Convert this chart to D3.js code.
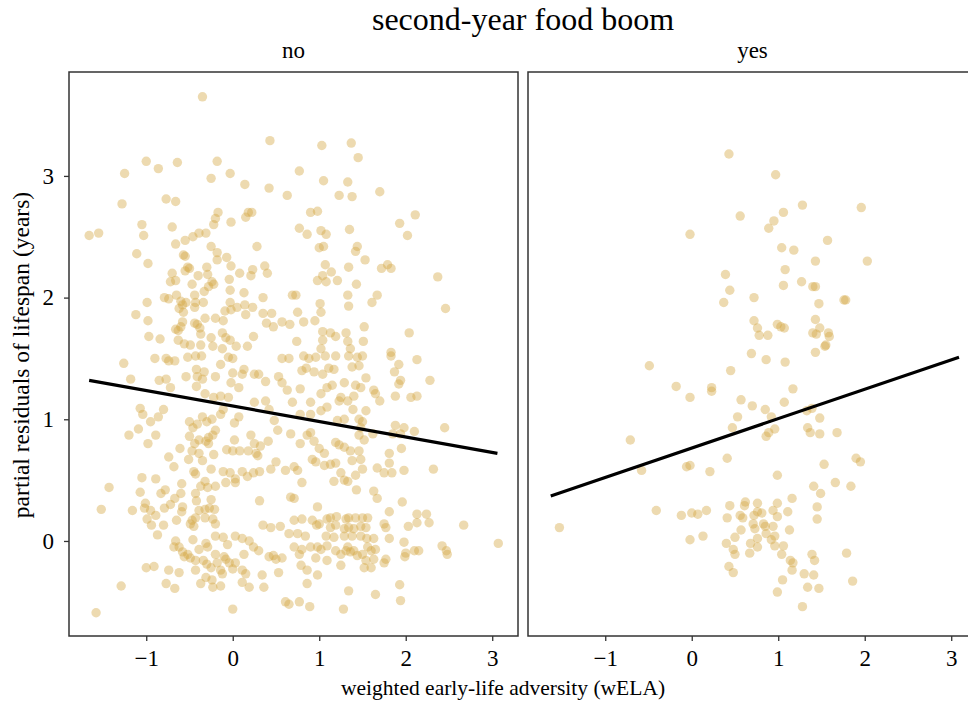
<!DOCTYPE html>
<html>
<head>
<meta charset="utf-8">
<script src="https://cdn.jsdelivr.net/npm/d3@7"></script>
<style>
  body { margin: 0; background: #fff; }
  text { font-family: "Liberation Serif", "Times New Roman", serif; fill: #000; }
</style>
</head>
<body>
<div id="chart"></div>
<script>
// facet labels and ticks
var facetNames = ["no", "yes"];
var xTicks = [-1, 0, 1, 2, 3];
var yTicks = [0, 1, 2, 3];

// points read off the "no" panel [wELA, partial residual]
var noPoints = [
[-0.35,3.65],[0.43,3.29],[-1.00,3.12],[-0.86,3.06],[-0.64,3.11],[-0.18,3.12],[-1.25,3.02],[-0.25,2.98],[-0.03,3.02],[0.14,2.93],[0.42,2.90],[0.63,2.84],[-1.28,2.77],[-0.77,2.81],[-0.66,2.79],[-0.17,2.70],[-0.20,2.65],[-0.22,2.60],[0.15,2.66],[0.18,2.70],[0.22,2.70],[-0.02,2.62],[-1.05,2.60],[-1.03,2.51],[-0.70,2.58],[-1.66,2.51],[-1.55,2.53],[-0.66,2.44],[-0.55,2.47],[-0.46,2.50],[-0.39,2.53],[-0.31,2.53],[-0.25,2.42],[0.28,2.42],[-1.11,2.36],[-0.98,2.28],[-0.57,2.35],[-0.55,2.34],[-0.18,2.37],[-0.18,2.31],[-0.07,2.33],[-0.02,2.26],[-0.30,2.25],[-0.52,2.25],[-0.55,2.22],[-0.50,2.24],[-0.70,2.20],[-0.72,2.13],[-0.66,2.14],[-0.40,2.18],[-0.29,2.19],[-0.47,2.11],[-0.24,2.13],[-0.22,2.11],[-0.28,2.09],[0.08,2.20],[0.21,2.18],[0.23,2.23],[0.37,2.26],[0.40,2.20],[-0.04,2.15],[-0.03,2.06],[0.13,2.04],[0.35,2.00],[0.69,2.02],[-0.33,2.05],[-0.44,2.02],[-0.43,1.96],[-0.54,1.96],[-0.58,1.94],[-0.79,2.00],[-0.74,1.99],[-0.65,2.02],[-0.99,1.96],[-1.12,1.86],[-0.98,1.81],[-0.97,1.68],[-0.84,1.66],[-0.62,1.91],[-0.57,1.88],[-0.60,1.97],[-0.34,1.96],[-0.44,1.92],[-0.09,1.89],[-0.02,1.90],[0.05,1.92],[0.14,1.94],[0.15,1.86],[0.23,1.92],[-0.03,1.96],[-0.32,1.83],[-0.20,1.83],[-0.11,1.81],[-0.44,1.79],[-0.41,1.78],[-0.38,1.75],[-0.58,1.80],[-0.63,1.73],[-0.66,1.74],[-0.60,1.76],[-0.37,1.70],[-0.25,1.67],[-0.12,1.71],[-0.08,1.67],[-0.03,1.65],[-0.63,1.65],[-0.56,1.62],[-0.49,1.61],[-0.37,1.61],[-0.23,1.60],[-0.12,1.58],[0.04,1.60],[0.24,1.68],[0.17,1.60],[0.39,1.79],[0.45,1.87],[0.47,1.76],[0.57,1.80],[0.66,1.78],[0.35,1.87],
[1.03,3.25],[1.37,3.27],[1.45,3.15],[0.77,3.04],[1.05,2.96],[1.33,2.95],[1.23,2.84],[1.38,2.83],[1.70,2.87],[0.90,2.70],[0.98,2.71],[0.77,2.57],[0.86,2.52],[1.02,2.55],[1.08,2.52],[1.35,2.56],[1.93,2.61],[2.11,2.68],[2.02,2.51],[1.00,2.41],[1.05,2.42],[1.44,2.42],[1.42,2.38],[1.53,2.31],[1.07,2.27],[1.14,2.21],[1.34,2.25],[1.72,2.24],[1.79,2.27],[1.83,2.24],[2.37,2.17],[0.98,2.14],[1.04,2.18],[1.08,2.13],[1.21,2.14],[1.43,2.11],[0.73,2.02],[0.75,1.88],[1.01,1.95],[1.02,1.88],[1.33,2.02],[1.34,1.93],[1.67,2.02],[1.61,1.96],[2.46,1.91],[0.82,1.80],[0.95,1.81],[1.04,1.72],[1.13,1.71],[1.19,1.68],[1.31,1.71],[1.33,1.64],[1.52,1.76],[1.51,1.64],[2.04,1.71],[1.04,1.65],[1.02,1.58],[0.74,1.64],[1.36,1.58],[1.83,1.55],
[-1.26,1.46],[-0.90,1.50],[-0.77,1.50],[-0.74,1.48],[-0.67,1.48],[-0.52,1.51],[-0.43,1.52],[-0.36,1.52],[-0.14,1.45],[-0.05,1.51],[0.00,1.50],[0.13,1.41],[0.57,1.50],[0.65,1.50],[-1.18,1.33],[-0.85,1.32],[-0.77,1.33],[-0.72,1.26],[-0.54,1.35],[-0.42,1.41],[-0.41,1.35],[-0.35,1.33],[-0.33,1.39],[-0.20,1.35],[0.00,1.38],[0.11,1.37],[0.25,1.37],[0.30,1.37],[0.38,1.31],[-0.02,1.30],[0.07,1.26],[0.53,1.35],[0.57,1.30],[0.63,1.24],[-0.42,1.27],[-0.32,1.21],[-0.22,1.18],[-0.14,1.19],[-0.05,1.18],[0.25,1.14],[0.38,1.15],[0.42,1.08],[0.69,1.14],[-1.07,1.09],[-1.04,1.04],[-0.95,0.98],[-0.86,1.02],[-0.80,1.08],[-1.20,0.87],[-1.09,0.92],[-0.89,0.87],[-0.98,0.80],[-0.74,0.69],[-0.68,0.61],[-0.61,0.76],[-0.50,0.98],[-0.46,0.93],[-0.41,0.96],[-0.35,1.02],[-0.30,0.98],[-0.24,1.00],[-0.20,0.91],[-0.28,0.85],[-0.50,0.86],[-0.44,0.80],[-0.39,0.83],[-0.31,0.82],[-0.23,0.87],[-0.28,0.80],[-0.47,0.74],[-0.39,0.72],[-0.35,0.66],[-0.22,0.71],[-0.14,1.04],[-0.11,1.08],[0.02,0.97],[0.07,1.02],[-0.07,0.75],[0.00,0.74],[0.08,0.74],[0.18,0.74],[0.27,0.72],[0.02,0.83],[0.21,0.87],[0.25,0.80],[0.32,0.78],[0.41,0.82],[0.29,0.70],[0.50,0.65],[0.44,0.59],[0.61,0.58],[0.48,0.99],[0.52,0.91],[0.67,0.88],[-0.51,0.67],[-0.45,0.57],[-0.43,0.55],[-0.25,0.59],[-0.11,0.57],[-0.03,0.56],[0.03,0.51],[0.11,0.57],[0.17,0.53],[0.24,0.56],[0.31,0.57],[0.03,0.48],[-0.08,0.48],[-0.32,0.49],[-0.37,0.45],[-0.29,0.44],[-0.20,0.45],[-0.59,0.47],[-0.60,0.39],[-0.67,0.35],[-0.89,0.51],[-1.05,0.52],[-0.78,0.42],[-0.83,0.39],[-1.07,0.40],[-1.01,0.31],[-0.95,0.25],[-0.89,0.21],[-1.16,0.25],[-1.02,0.27],[-0.99,0.18],[-0.79,0.27],[-0.72,0.30],[-0.58,0.28],[-0.59,0.24],[-0.65,0.17],[-0.49,0.14],[-0.45,0.12],[-0.47,0.17],[-0.43,0.39],[-0.42,0.33],[-0.39,0.25],[-0.43,0.19],[-0.32,0.26],[-0.27,0.27],[-0.21,0.26],[-0.32,0.19],[-0.23,0.18],[-0.20,0.14],[-0.25,0.34],[-1.43,0.44],[-1.52,0.26],[0.31,0.33],[-0.94,0.13],[-0.87,0.05],[-0.80,0.13],[-0.66,0.00],[-0.62,-0.05],[-0.58,-0.09],[-0.52,-0.11],[-0.49,-0.14],[-0.43,-0.16],[-0.68,-0.05],[-0.56,-0.13],[-0.62,-0.26],[-0.46,0.01],[-0.39,-0.07],[-0.31,-0.02],[-0.29,-0.05],[-0.20,0.04],[-0.11,0.03],[-0.06,-0.03],[0.03,0.04],[0.11,0.02],[0.13,-0.11],[0.19,0.00],[0.24,-0.05],[0.30,-0.08],[-0.20,-0.11],[-0.18,-0.18],[-0.10,-0.13],[-0.04,-0.18],[0.00,-0.23],[0.03,-0.18],[-0.34,-0.16],[-0.30,-0.19],[-0.25,-0.22],[-0.14,-0.24],[-0.12,-0.27],[-0.08,-0.15],[-0.43,-0.24],[-0.37,-0.35],[-0.31,-0.30],[-0.24,-0.32],[-0.23,-0.38],[-0.14,-0.37],[0.11,-0.24],[0.15,-0.27],[0.11,-0.34],[0.19,-0.38],[0.34,-0.28],[0.36,-0.38],[0.42,-0.13],[0.47,-0.12],[0.50,-0.15],[0.57,-0.14],[0.53,-0.26],[0.35,0.13],[0.44,0.11],[0.55,0.12],[0.65,0.06],[-1.00,-0.22],[-0.91,-0.21],[-0.74,-0.24],[-0.77,-0.35],[-0.67,-0.39],[-1.29,-0.37],[-1.58,-0.59],[0.00,-0.56],[0.61,-0.50],[0.65,-0.52],[0.67,0.36],
[0.82,1.52],[0.88,1.50],[0.96,1.51],[1.07,1.52],[1.19,1.52],[1.34,1.52],[1.44,1.51],[1.50,1.52],[1.83,1.52],[2.13,1.49],[0.80,1.40],[0.85,1.42],[0.94,1.39],[1.04,1.37],[1.11,1.42],[1.17,1.41],[1.29,1.30],[1.38,1.43],[1.46,1.44],[1.54,1.34],[1.42,1.28],[1.48,1.26],[1.92,1.45],[1.87,1.39],[2.28,1.32],[0.78,1.25],[0.90,1.14],[1.02,1.21],[1.09,1.26],[1.15,1.28],[1.94,1.32],[1.92,1.29],[1.88,1.19],[1.63,1.24],[1.65,1.21],[1.70,1.15],[2.06,1.18],[2.13,1.19],[1.23,1.15],[1.25,1.18],[1.33,1.15],[1.40,1.19],[1.39,1.08],[1.54,1.07],[1.09,1.10],[1.02,1.07],[0.90,1.04],[0.78,1.04],[1.21,0.99],[1.29,1.00],[1.46,1.00],[1.50,0.98],[1.48,0.93],[1.88,0.95],[1.98,0.93],[2.10,0.90],[2.45,0.93],[1.62,0.88],[1.46,0.87],[1.52,0.83],[1.85,0.88],[1.94,0.88],[0.90,0.89],[0.94,0.82],[1.00,0.76],[1.06,0.72],[0.86,0.87],[0.78,0.80],[1.19,0.81],[1.23,0.79],[1.29,0.77],[1.36,0.74],[1.46,0.74],[1.81,0.72],[1.95,0.76],[0.92,0.67],[0.96,0.65],[1.06,0.62],[1.13,0.63],[1.19,0.64],[0.71,0.61],[0.75,0.58],[0.80,0.48],[1.38,0.66],[1.48,0.67],[1.50,0.59],[1.67,0.60],[1.75,0.56],[1.81,0.64],[1.84,0.56],[1.98,0.58],[2.32,0.59],[1.25,0.56],[1.29,0.50],[1.33,0.49],[1.17,0.49],[1.42,0.54],[1.43,0.42],[1.63,0.41],[1.67,0.35],[0.71,0.35],[0.98,0.28],[1.96,0.32],[1.81,0.24],[2.13,0.22],[2.24,0.22],[2.27,0.15],[2.03,0.12],[2.13,0.15],[2.67,0.13],[3.07,-0.02],[2.42,-0.04],[2.47,-0.08],[2.48,-0.11],[0.71,0.17],[0.80,0.18],[0.92,0.17],[0.97,0.13],[1.00,0.14],[1.09,0.18],[1.13,0.19],[1.20,0.20],[1.31,0.18],[1.34,0.19],[1.42,0.19],[1.50,0.19],[1.56,0.19],[1.13,0.11],[1.19,0.13],[1.29,0.10],[1.34,0.11],[1.40,0.10],[1.48,0.12],[1.54,0.11],[1.08,0.04],[1.17,0.03],[1.29,0.04],[1.38,0.04],[1.48,0.04],[1.55,0.02],[1.63,0.02],[1.75,0.14],[1.77,0.11],[1.81,0.02],[1.98,-0.01],[2.00,-0.10],[1.99,-0.13],[2.10,-0.08],[2.15,-0.08],[0.75,0.06],[0.84,0.04],[0.90,-0.05],[0.98,-0.05],[1.02,-0.07],[0.71,-0.05],[0.77,-0.11],[0.80,-0.07],[1.09,-0.04],[1.19,-0.08],[1.25,-0.11],[1.31,-0.08],[1.33,-0.05],[1.36,-0.09],[1.40,-0.08],[1.44,-0.12],[1.50,-0.11],[1.56,-0.05],[1.60,-0.08],[1.65,-0.07],[1.54,-0.16],[1.60,-0.22],[1.63,-0.15],[1.75,-0.18],[1.77,-0.15],[0.79,-0.20],[0.86,-0.24],[0.96,-0.14],[1.09,-0.16],[1.25,-0.20],[1.52,-0.22],[0.86,-0.35],[0.98,-0.28],[1.34,-0.41],[1.65,-0.44],[1.93,-0.36],[1.94,-0.49],[0.77,-0.50],[0.89,-0.54],[1.28,-0.56]
];

var yesPoints = [
[0.43,3.18],[0.97,3.01],[1.28,2.76],[1.96,2.74],[1.06,2.70],[0.56,2.67],[0.95,2.63],[0.89,2.57],[-0.02,2.52],[1.57,2.47],[1.04,2.41],[1.18,2.39],[1.43,2.30],[2.03,2.30],[1.08,2.23],[0.39,2.19],[1.06,2.10],[1.27,2.13],[1.40,2.09],[1.43,2.09],[0.44,2.06],[0.72,2.00],[0.37,1.96],[1.47,1.95],[1.76,1.98],[1.78,1.98],[0.72,1.81],[1.43,1.82],[0.76,1.75],[0.99,1.78],[1.03,1.76],[1.07,1.75],[1.48,1.75],[0.78,1.69],[0.88,1.69],[1.40,1.71],[1.44,1.70],[1.58,1.71],[1.59,1.68],[1.55,1.61],[1.54,1.60],[1.43,1.55],[0.69,1.54],[0.86,1.49],[1.08,1.47],[0.45,1.40],[-0.49,1.44],[-0.18,1.27],[0.23,1.26],[0.23,1.23],[1.17,1.25],[-0.02,1.18],[0.57,1.16],[0.70,1.11],[1.07,1.14],[0.85,1.08],[1.39,1.09],[1.33,1.07],[0.53,1.02],[0.92,1.02],[1.48,1.01],[0.47,0.93],[0.96,0.92],[0.89,0.89],[0.86,0.86],[1.34,0.93],[1.37,0.89],[1.48,0.88],[1.68,0.89],[-0.71,0.83],[0.41,0.68],[-0.58,0.58],[-0.06,0.61],[-0.02,0.62],[0.21,0.57],[0.99,0.54],[1.53,0.63],[1.90,0.68],[1.95,0.65],[1.66,0.48],[1.41,0.45],[1.49,0.39],[1.84,0.45],[-1.53,0.11],
[-0.41,0.25],[-0.12,0.21],[0.00,0.23],[0.07,0.22],[0.17,0.25],[-0.02,0.01],[0.13,0.04],[0.44,0.29],[0.62,0.32],[0.61,0.29],[0.76,0.31],[0.99,0.31],[1.16,0.35],[0.41,0.19],[0.56,0.21],[0.59,0.19],[0.72,0.21],[0.76,0.24],[0.81,0.23],[0.94,0.25],[0.99,0.20],[1.11,0.24],[1.45,0.28],[1.45,0.18],[0.57,0.09],[0.71,0.14],[0.73,0.10],[0.83,0.14],[0.85,0.12],[0.94,0.12],[1.13,0.09],[0.50,0.03],[0.76,0.02],[0.86,0.06],[0.96,0.04],[0.92,0.01],[0.40,-0.02],[0.48,-0.07],[0.50,-0.11],[0.68,-0.02],[0.76,-0.05],[0.67,-0.10],[0.96,-0.04],[1.06,-0.04],[1.04,-0.11],[0.43,-0.21],[0.48,-0.26],[1.14,-0.16],[1.17,-0.18],[1.16,-0.24],[1.39,-0.11],[1.42,-0.16],[1.79,-0.10],[1.30,-0.27],[1.41,-0.28],[1.05,-0.32],[1.86,-0.33],[1.34,-0.38],[1.47,-0.39],[0.99,-0.42],[1.28,-0.54]
];

// fitted lines, start and end [wELA, residual]
var noLine = [[-1.66, 1.32], [3.06, 0.72]];
var yesLine = [[-1.63, 0.37], [3.09, 1.51]];

var svgWidth = 968, svgHeight = 702;
var panelTop = 72, panelWidth = 449, panelHeight = 564;
var panelLeft = [69, 528];

var svg = d3.select("#chart").append("svg")
    .attr("width", svgWidth)
    .attr("height", svgHeight);

var xScale = d3.scaleLinear()
    .domain([-1.893, 3.298])
    .range([0, panelWidth]);

var yScale = d3.scaleLinear()
    .domain([-0.781, 3.854])
    .range([panelHeight, 0]);

var line = d3.line()
    .x(function(d){ return xScale(d[0]); })
    .y(function(d){ return yScale(d[1]); });

var facetData = [noPoints, yesPoints];
var facetLines = [noLine, yesLine];

// minus sign like the original figure
var tickFmt = function(d){ return d < 0 ? "\u2212" + Math.abs(d) : String(d); };

facetNames.forEach(function(name, i){
    var panel = svg.append("g")
        .attr("class", "panel")
        .attr("transform", "translate(" + panelLeft[i] + "," + panelTop + ")");

    panel.append("g")
        .selectAll("circle")
        .data(facetData[i])
        .enter().append("circle")
        .attr("cx", function(d){ return xScale(d[0]); })
        .attr("cy", function(d){ return yScale(d[1]); })
        .attr("r", 4.7)
        .attr("fill", "#d4a843")
        .attr("fill-opacity", 0.42);

    panel.append("path")
        .datum(facetLines[i])
        .attr("d", line)
        .attr("fill", "none")
        .attr("stroke", "#000")
        .attr("stroke-width", 3.2);

    panel.append("rect")
        .attr("x", 0)
        .attr("y", 0)
        .attr("width", panelWidth)
        .attr("height", panelHeight)
        .attr("fill", "none")
        .attr("stroke", "#333")
        .attr("stroke-width", 1.5);

    var xAxis = panel.append("g")
        .attr("transform", "translate(0," + panelHeight + ")")
        .call(d3.axisBottom(xScale).tickValues(xTicks).tickSize(5).tickPadding(9).tickFormat(tickFmt));
    xAxis.select(".domain").remove();
    xAxis.selectAll("line").attr("stroke", "#333").attr("stroke-width", 1.3);
    xAxis.selectAll("text")
        .style("font-family", "'Liberation Serif', serif")
        .style("font-size", "23px")
        .attr("fill", "#000");

    if (i == 0) {
        var yAxis = panel.append("g")
            .call(d3.axisLeft(yScale).tickValues(yTicks).tickSize(5).tickPadding(10).tickFormat(tickFmt));
        yAxis.select(".domain").remove();
        yAxis.selectAll("line").attr("stroke", "#333").attr("stroke-width", 1.3);
        yAxis.selectAll("text")
            .style("font-family", "'Liberation Serif', serif")
            .style("font-size", "23px")
            .attr("fill", "#000");
    }

    svg.append("text")
        .attr("x", panelLeft[i] + panelWidth / 2)
        .attr("y", 58)
        .attr("text-anchor", "middle")
        .style("font-size", "23px")
        .text(name);
});

svg.append("text")
    .attr("x", 523)
    .attr("y", 30)
    .attr("text-anchor", "middle")
    .style("font-size", "32px")
    .text("second-year food boom");

svg.append("text")
    .attr("x", 503)
    .attr("y", 695)
    .attr("text-anchor", "middle")
    .style("font-size", "21.5px")
    .text("weighted early-life adversity (wELA)");

svg.append("text")
    .attr("transform", "translate(29," + 355 + ") rotate(-90)")
    .attr("text-anchor", "middle")
    .style("font-size", "23.5px")
    .text("partial residuals of lifespan (years)");
</script>
</body>
</html>
